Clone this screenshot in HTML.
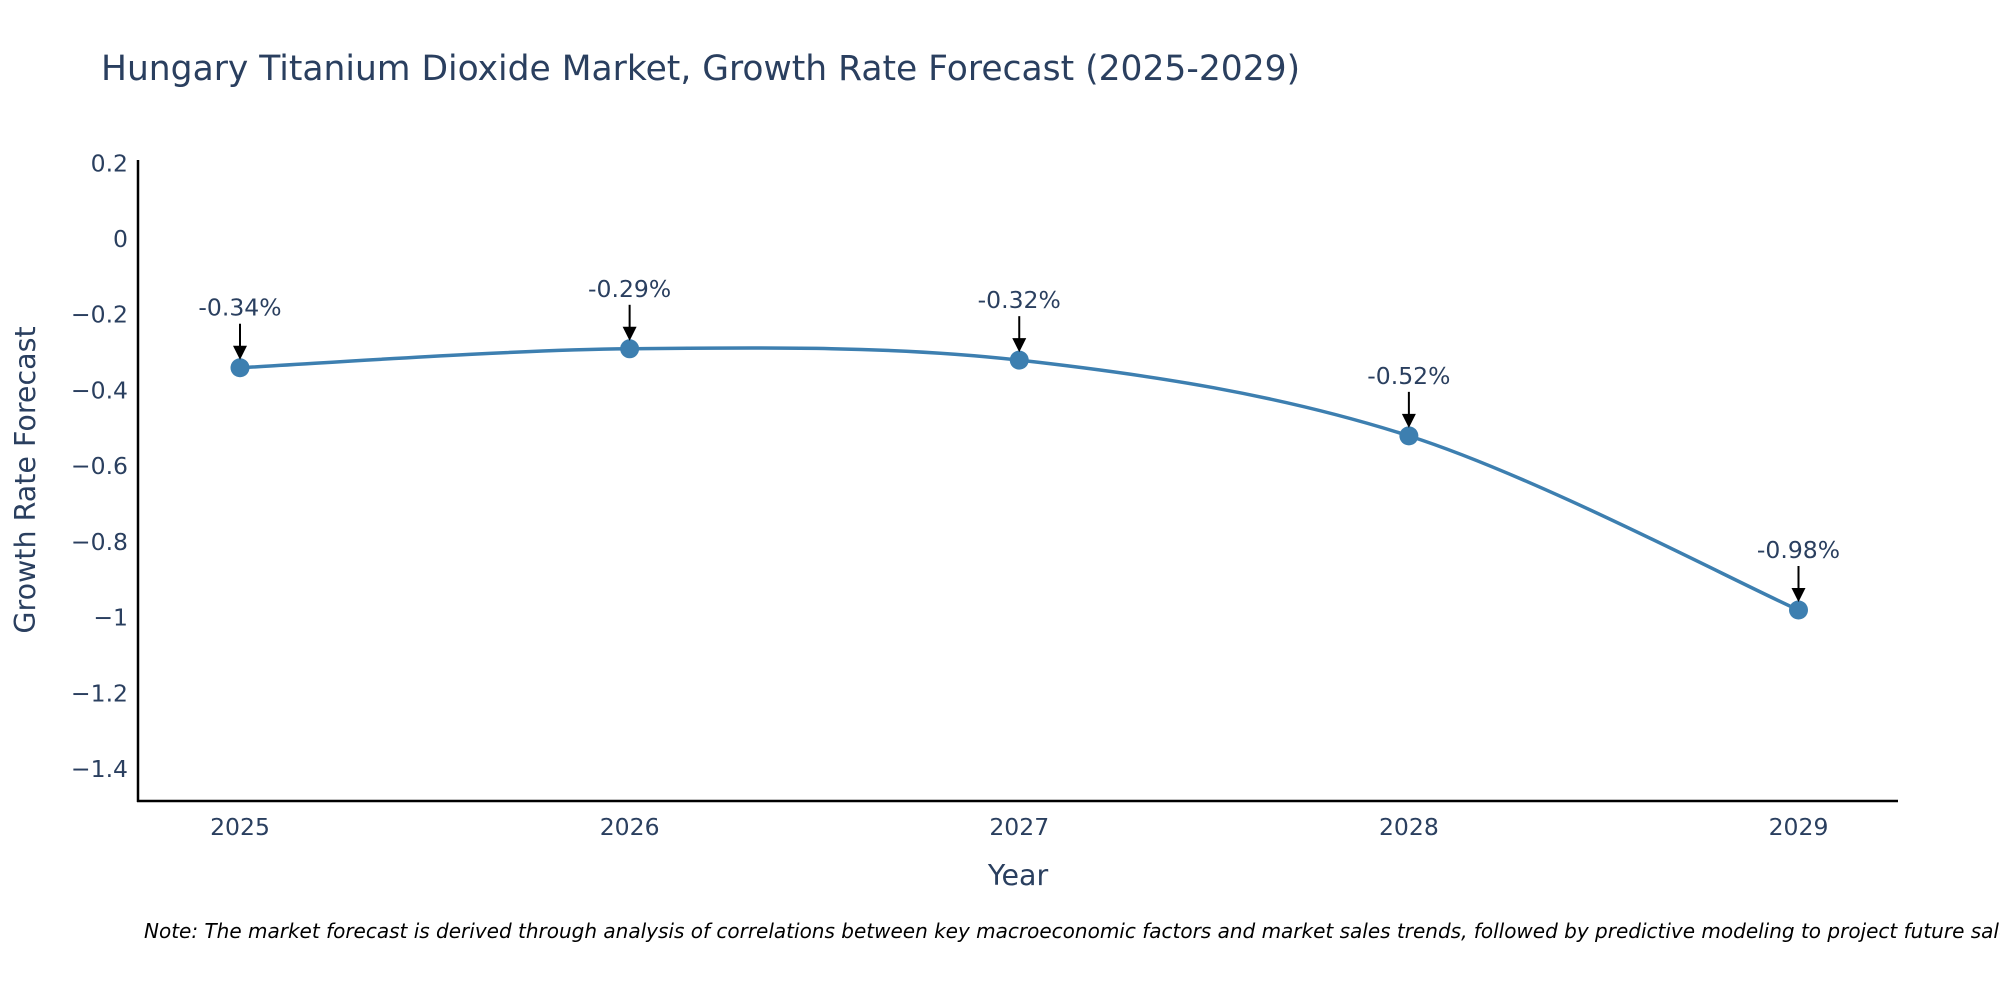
<!DOCTYPE html>
<html><head><meta charset="utf-8"><style>
body{margin:0;background:#fff;overflow:hidden;}
svg text{font-family:"DejaVu Sans","Liberation Sans",sans-serif;fill:#2a3f5f;}
</style></head><body>
<svg id="chart" width="2000" height="1000" xmlns="http://www.w3.org/2000/svg">
<text x="101" y="80" font-size="34.5">Hungary Titanium Dioxide Market, Growth Rate Forecast (2025-2029)</text>
<g id="yticks"></g><g id="xticks"></g>
<line x1="138" y1="160" x2="138" y2="802" stroke="#000" stroke-width="2.5"/>
<line x1="137" y1="801" x2="1898" y2="801" stroke="#000" stroke-width="2.5"/>
<path id="line" fill="none" stroke="#3d7fb0" stroke-width="3.5"/>
<g id="marks"></g>
<text x="1018" y="885" font-size="28.5" text-anchor="middle">Year</text>
<text transform="translate(35,480) rotate(-90)" font-size="28.5" text-anchor="middle">Growth Rate Forecast</text>
<text x="144" y="938" font-size="20" font-style="italic" style="fill:#000">Note: The market forecast is derived through analysis of correlations between key macroeconomic factors and market sales trends, followed by predictive modeling to project future sales</text>
</svg>
<script>
const years=["2025","2026","2027","2028","2029"];
const values=[-0.34,-0.29,-0.32,-0.52,-0.98];
const labels=["-0.34%","-0.29%","-0.32%","-0.52%","-0.98%"];
const yTicks=[0.2,0,-0.2,-0.4,-0.6,-0.8,-1,-1.2,-1.4];
const NS="http://www.w3.org/2000/svg";
const x=i=>240+i*(1798.5-240)/4;
const y=v=>163.3+(0.2-v)*(769-163.3)/1.6;
function mk(t,a,p){const e=document.createElementNS(NS,t);for(const k in a)e.setAttribute(k,a[k]);p.appendChild(e);return e;}
const yt=document.getElementById('yticks');
yTicks.forEach(v=>{const t=mk('text',{x:128,y:y(v)+8,'font-size':23.5,'text-anchor':'end'},yt);
t.textContent=v===0?'0':(v<0?'\u2212'+Math.abs(v):String(v));

});
const xt=document.getElementById('xticks');
years.forEach((yr,i)=>{const t=mk('text',{x:x(i),y:835,'font-size':23.5,'text-anchor':'middle'},xt);t.textContent=yr;

});
const P=values.map((v,i)=>[x(i),y(v)]);
let d='M'+P[0][0]+','+P[0][1];const s=1/6;
for(let i=0;i<P.length-1;i++){const p0=P[Math.max(0,i-1)],p1=P[i],p2=P[i+1],p3=P[Math.min(P.length-1,i+2)];
d+=` C${p1[0]+(p2[0]-p0[0])*s},${p1[1]+(p2[1]-p0[1])*s} ${p2[0]-(p3[0]-p1[0])*s},${p2[1]-(p3[1]-p1[1])*s} ${p2[0]},${p2[1]}`;}
document.getElementById('line').setAttribute('d',d);
const m=document.getElementById('marks');
P.forEach((p,i)=>{
const c=mk('circle',{cx:p[0],cy:p[1],r:9.5,fill:'#3d7fb0'},m);


const l=mk('line',{x1:p[0],y1:p[1]-44,x2:p[0],y2:p[1]-20,stroke:'#000','stroke-width':2},m);


const h=mk('polygon',{points:`${p[0]-7},${p[1]-22} ${p[0]+7},${p[1]-22} ${p[0]},${p[1]-8}`,fill:'#000'},m);


const t=mk('text',{x:p[0],y:p[1]-52,'font-size':23.5,'text-anchor':'middle'},m);t.textContent=labels[i];

});
</script>
</body></html>
